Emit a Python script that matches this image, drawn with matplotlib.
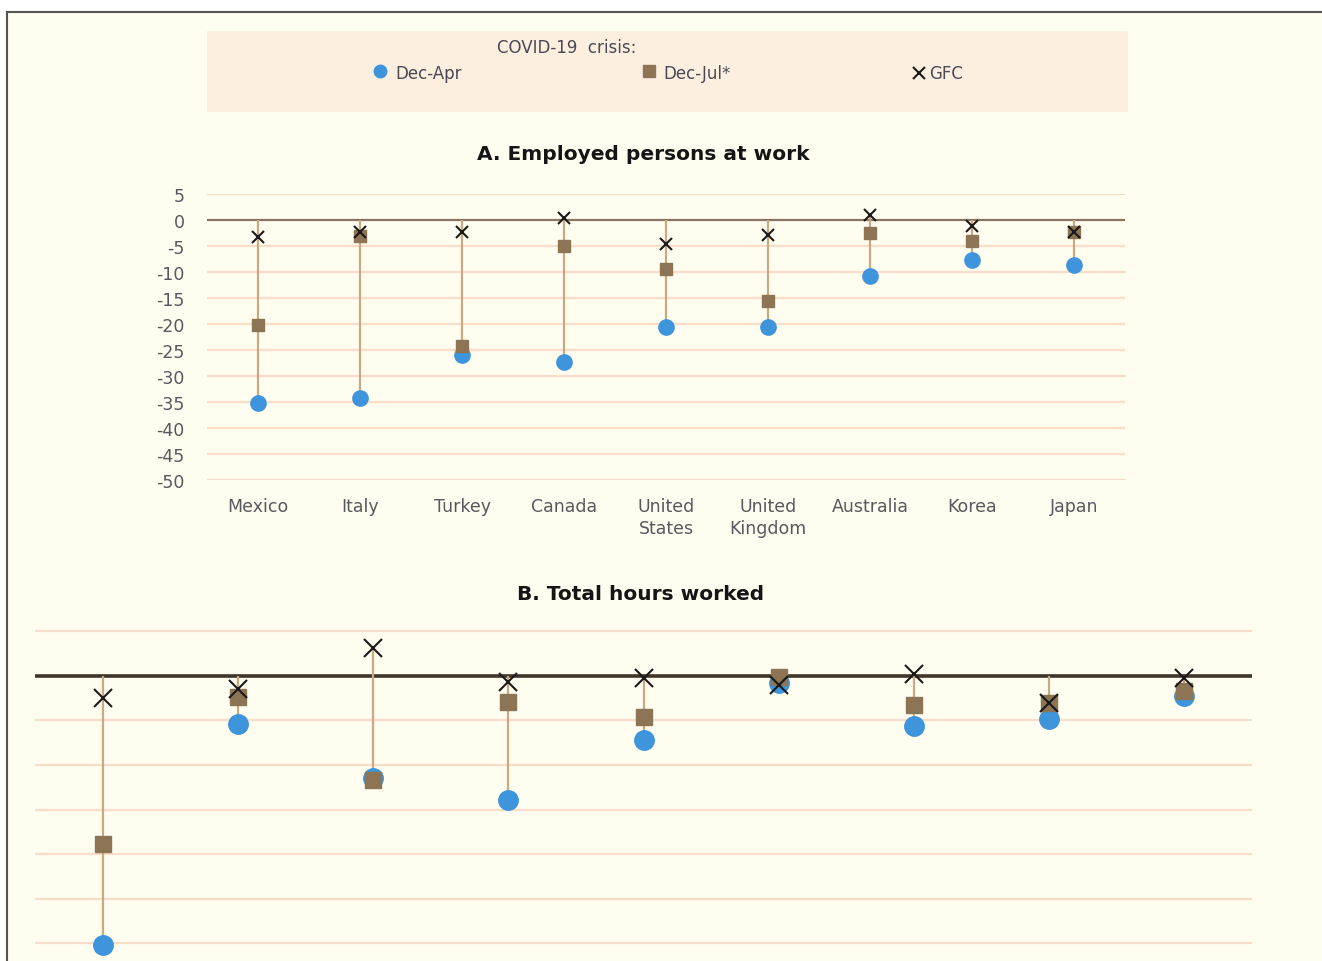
import numpy as np
import matplotlib.pyplot as plt
from matplotlib.patches import Rectangle
from matplotlib.lines import Line2D

plt.rcParams["axes.unicode_minus"] = False

W, H = 1322, 962

# Panel A: employed persons at work, % change
countries_a = ["Mexico", "Italy", "Turkey", "Canada", "United\nStates",
               "United\nKingdom", "Australia", "Korea", "Japan"]
dec_apr_a = [-35.2, -34.2, -26.0, -27.3, -20.6, -20.6, -10.8, -7.7, -8.7]
dec_jul_a = [-20.2, -3.0, -24.2, -5.0, -9.4, -15.6, -2.5, -4.0, -2.3]
gfc_a = [-3.3, -2.3, -2.3, 0.4, -4.6, -2.9, 1.0, -1.2, -2.3]
yticks_a = [5, 0, -5, -10, -15, -20, -25, -30, -35, -40, -45, -50]

# Panel B: total hours worked, % change (cropped, no labels visible)
dec_apr_b = [-60.5, -10.8, -22.9, -27.8, -14.3, -1.6, -11.2, -9.6, -4.5]
dec_jul_b = [-37.7, -4.7, -23.3, -5.8, -9.2, -0.2, -6.5, -6.0, -3.4]
gfc_b = [-4.9, -2.9, 6.3, -1.3, -0.4, -2.0, 0.4, -6.0, -0.4]
ygrid_b = [10, 0, -10, -20, -30, -40, -50, -60]

CREAM = "#FFFDEF"
PEACH = "#FDEFDF"
GRID = "#F8DDC8"
BLUE = "#3E95DB"
BROWN = "#8C7455"
TAN = "#C9A982"
TXT = "#58585F"


def fx(x):
    return x / W


def fy(y):
    return 1 - y / H


def panel(ax, apr, jul, gfc, grid, zero_color, zero_lw, ms):
    ax.set_facecolor("none")
    for s in ax.spines.values():
        s.set_visible(False)
    for g in grid:
        if g != 0:
            ax.axhline(g, color=GRID, lw=1.6, zorder=1)
    ax.axhline(0, color=zero_color, lw=zero_lw, zorder=2)
    x = np.arange(len(apr))
    top = [max(0, max(a, b, c)) for a, b, c in zip(apr, jul, gfc)]
    bot = [min(a, b, c) for a, b, c in zip(apr, jul, gfc)]
    ax.vlines(x, bot, top, color=TAN, lw=1.6, zorder=3)
    ax.plot(x, apr, "o", color=BLUE, ms=ms[0], mec=BLUE, ls="none", zorder=4, clip_on=False)
    ax.plot(x, jul, "s", color=BROWN, ms=ms[1], mec=BROWN, ls="none", zorder=5, clip_on=False)
    ax.plot(x, gfc, "x", color="#1A1A1A", ms=ms[2], mew=1.5, ls="none", zorder=6, clip_on=False)
    ax.set_xlim(-0.5, len(apr) - 0.5)


fig = plt.figure(figsize=(W / 100, H / 100), dpi=100)
fig.patch.set_facecolor("white")
fig.add_artist(Rectangle((fx(7), -0.02), 1.05, fy(13) + 0.02, transform=fig.transFigure,
                         facecolor=CREAM, edgecolor="#555555", lw=1.5, zorder=0))

# legend box
fig.add_artist(Rectangle((fx(207), fy(113)), fx(1128 - 207), (113 - 32) / H,
                         transform=fig.transFigure, facecolor=PEACH, edgecolor="none", zorder=0))
lfont = dict(family="DejaVu Sans", fontsize=12, color="#4A4A55")
fig.text(fx(567), fy(48), "COVID-19  crisis:", ha="center", va="center", **lfont)
fig.add_artist(Line2D([fx(380)], [fy(72)], marker="o", ms=9, color=BLUE, transform=fig.transFigure))
fig.text(fx(395), fy(74), "Dec-Apr", ha="left", va="center", **lfont)
fig.add_artist(Line2D([fx(649)], [fy(72)], marker="s", ms=8, color=BROWN, transform=fig.transFigure))
fig.text(fx(663), fy(74), "Dec-Jul*", ha="left", va="center", **lfont)
fig.add_artist(Line2D([fx(919)], [fy(74)], marker="x", ms=9, mew=1.5, color="#1A1A1A",
                      transform=fig.transFigure))
fig.text(fx(929), fy(74), "GFC", ha="left", va="center", **lfont)

tfont = dict(family="DejaVu Sans", fontsize=14.5, fontweight="bold", color="#151515")
fig.text(fx(643), fy(155), "A. Employed persons at work", ha="center", va="center", **tfont)
fig.text(fx(641), fy(595), "B. Total hours worked", ha="center", va="center", **tfont)

# panel A
ax1 = fig.add_axes([fx(207), fy(481), fx(1125 - 207), (481 - 195) / H])
panel(ax1, dec_apr_a, dec_jul_a, gfc_a, yticks_a, "#8A7660", 1.6, (11, 8, 9))
ax1.set_ylim(-50, 5)
ax1.set_yticks(yticks_a)
ax1.set_xticks(np.arange(len(countries_a)))
ax1.set_xticklabels(countries_a, linespacing=1.3)
ax1.tick_params(axis="both", length=0, labelsize=12.5, labelcolor=TXT)
ax1.tick_params(axis="y", pad=16)
ax1.tick_params(axis="x", pad=12)
for lab in ax1.get_xticklabels() + ax1.get_yticklabels():
    lab.set_family("DejaVu Sans")

# panel B
ax2 = fig.add_axes([fx(35), 0, fx(1252 - 35), 1 - 623.5 / H])
panel(ax2, dec_apr_b, dec_jul_b, gfc_b, ygrid_b, "#3F3528", 2.6, (14, 11, 13))
ax2.set_ylim(-64, 12)
ax2.set_xticks([])
ax2.set_yticks([])

fig.savefig("out.png", dpi=100, facecolor=fig.get_facecolor())
